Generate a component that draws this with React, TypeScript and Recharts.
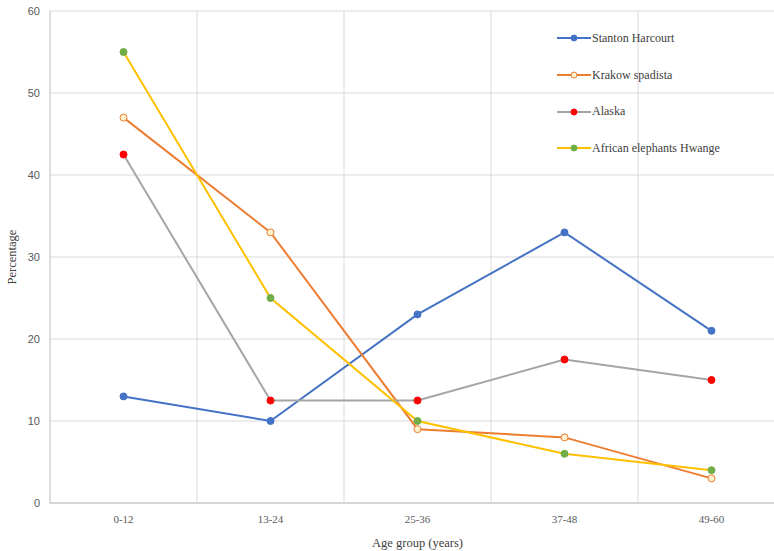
import {
  LineChart,
  Line,
  XAxis,
  YAxis,
  CartesianGrid,
} from 'recharts';

const ageGroups = ['0-12', '13-24', '25-36', '37-48', '49-60'];
const stantonHarcourt = [13, 10, 23, 33, 21];
const krakowSpadista = [47, 33, 9, 8, 3];
const alaska = [42.5, 12.5, 12.5, 17.5, 15];
const hwange = [55, 25, 10, 6, 4];
const yTicks = [0, 10, 20, 30, 40, 50, 60];

const data = ageGroups.map((group, i) => ({
  group,
  stanton: stantonHarcourt[i],
  krakow: krakowSpadista[i],
  alaska: alaska[i],
  hwange: hwange[i],
}));

const seriesStyle = [
  { key: 'stanton', name: 'Stanton Harcourt', line: '#4472C4', fill: '#4472C4', stroke: '#4472C4' },
  { key: 'krakow', name: 'Krakow spadista', line: '#ED7D31', fill: '#FFF2CC', stroke: '#ED7D31' },
  { key: 'alaska', name: 'Alaska', line: '#A5A5A5', fill: '#FF0000', stroke: '#FF0000' },
  { key: 'hwange', name: 'African elephants Hwange', line: '#FFC000', fill: '#70AD47', stroke: '#70AD47' },
];

const serif = '"Liberation Serif", "Times New Roman", serif';
const sans = '"Liberation Sans", Arial, sans-serif';

// legend is drawn as an overlay so it doesn't shrink the plot area
function LegendBox() {
  return (
    <div
      style={{
        position: 'absolute',
        left: 557,
        top: 20,
        fontFamily: serif,
        fontSize: 12,
        color: '#404040',
      }}
    >
      {seriesStyle.map((s) => (
        <div key={s.key} style={{ display: 'flex', alignItems: 'center', height: 36.7 }}>
          <svg width={34} height={10} style={{ marginRight: 1 }}>
            <line x1={0} y1={5} x2={34} y2={5} stroke={s.line} strokeWidth={2} />
            <circle cx={17} cy={5} r={3} fill={s.fill} stroke={s.stroke} strokeWidth={1} />
          </svg>
          <span>{s.name}</span>
        </div>
      ))}
    </div>
  );
}

export default function App() {
  return (
    <div
      style={{
        position: 'fixed',
        left: 0,
        top: 0,
        width: 774,
        height: 551,
        overflow: 'hidden',
        background: '#fff',
      }}
    >
      <LineChart
        width={790}
        height={551}
        data={data}
        margin={{ top: 11, right: 5, bottom: 0, left: 0 }}
      >
        <CartesianGrid
          stroke="#D9D9D9"
          verticalCoordinatesGenerator={({ offset }: any) =>
            ageGroups.slice(1).map((_, i) => offset.left + ((i + 1) * offset.width) / ageGroups.length)
          }
        />
        <XAxis
          dataKey="group"
          scale="band"
          height={48}
          tickLine={false}
          axisLine={{ stroke: '#BFBFBF' }}
          tickSize={0}
          tickMargin={12}
          tick={{ fontSize: 11, fill: '#595959', fontFamily: serif }}
          label={{
            value: 'Age group (years)',
            position: 'insideBottom',
            offset: 4,
            style: { fontSize: 12.5, fill: '#404040', fontFamily: serif },
          }}
        />
        <YAxis
          domain={[0, 60]}
          ticks={yTicks}
          width={50}
          tickLine={false}
          axisLine={{ stroke: '#BFBFBF' }}
          tickSize={0}
          tickMargin={10}
          tick={{ fontSize: 11, fill: '#595959', fontFamily: sans }}
          label={{
            value: 'Percentage',
            angle: -90,
            position: 'insideLeft',
            offset: 0,
            dx: 12,
            style: { fontSize: 12.5, fill: '#404040', fontFamily: serif, textAnchor: 'middle' },
          }}
        />
        {seriesStyle.map((s) => (
          <Line
            key={s.key}
            dataKey={s.key}
            name={s.name}
            type="linear"
            stroke={s.line}
            strokeWidth={2}
            dot={{ r: 3.5, fill: s.fill, stroke: s.stroke, strokeWidth: 1 }}
            activeDot={false}
            isAnimationActive={false}
          />
        ))}
      </LineChart>
      <LegendBox />
    </div>
  );
}
